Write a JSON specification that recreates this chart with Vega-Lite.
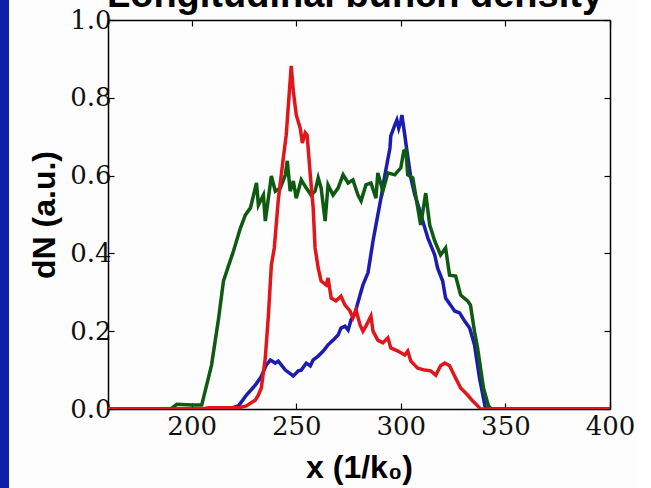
{
  "$schema": "https://vega.github.io/schema/vega-lite/v6.json",
  "background": "#fdfdfd",
  "padding": {"left": 0, "top": -23, "right": 0, "bottom": 0},
  "spacing": 19,
  "config": {
    "view": {"stroke": null},
    "axis": {
      "grid": false,
      "domainColor": "#000",
      "domainWidth": 1.5,
      "tickColor": "#000",
      "tickWidth": 1.2,
      "tickSize": -6,
      "labelFont": "DejaVu Serif",
      "labelFontSize": 26,
      "labelColor": "#111",
      "labelOverlap": false,
      "labelBound": false,
      "labelFlush": false,
      "titleFont": "Liberation Sans",
      "titleFontSize": 32,
      "titleFontWeight": "bold",
      "titleColor": "#000"
    }
  },
  "datasets": {
    "curves": [
      {"s": "A", "x": 160, "y": 0}, {"s": "A", "x": 210, "y": 0}, {"s": "A", "x": 219, "y": 0.003}, {"s": "A", "x": 222.4, "y": 0.008},
      {"s": "A", "x": 226.2, "y": 0.036}, {"s": "A", "x": 230.5, "y": 0.062}, {"s": "A", "x": 232.9, "y": 0.08}, {"s": "A", "x": 235.7, "y": 0.113},
      {"s": "A", "x": 237.6, "y": 0.126}, {"s": "A", "x": 240, "y": 0.118}, {"s": "A", "x": 241.4, "y": 0.123}, {"s": "A", "x": 244.8, "y": 0.1},
      {"s": "A", "x": 248.6, "y": 0.085}, {"s": "A", "x": 251, "y": 0.098}, {"s": "A", "x": 252.4, "y": 0.1}, {"s": "A", "x": 254.8, "y": 0.118},
      {"s": "A", "x": 256.7, "y": 0.111}, {"s": "A", "x": 258.1, "y": 0.126}, {"s": "A", "x": 260.5, "y": 0.136}, {"s": "A", "x": 262.9, "y": 0.149},
      {"s": "A", "x": 265.2, "y": 0.165}, {"s": "A", "x": 267.6, "y": 0.177}, {"s": "A", "x": 270, "y": 0.19}, {"s": "A", "x": 271.4, "y": 0.208},
      {"s": "A", "x": 273.3, "y": 0.213}, {"s": "A", "x": 274.8, "y": 0.203}, {"s": "A", "x": 276.2, "y": 0.229}, {"s": "A", "x": 278.1, "y": 0.247},
      {"s": "A", "x": 280.5, "y": 0.293}, {"s": "A", "x": 281.9, "y": 0.319}, {"s": "A", "x": 284.3, "y": 0.35}, {"s": "A", "x": 286.7, "y": 0.432},
      {"s": "A", "x": 288.1, "y": 0.473}, {"s": "A", "x": 290.5, "y": 0.542}, {"s": "A", "x": 292.4, "y": 0.602}, {"s": "A", "x": 294.8, "y": 0.671},
      {"s": "A", "x": 295.2, "y": 0.702}, {"s": "A", "x": 297.1, "y": 0.73}, {"s": "A", "x": 298.1, "y": 0.743}, {"s": "A", "x": 299, "y": 0.722},
      {"s": "A", "x": 300, "y": 0.74}, {"s": "A", "x": 300.5, "y": 0.756}, {"s": "A", "x": 301.9, "y": 0.704}, {"s": "A", "x": 302.4, "y": 0.684},
      {"s": "A", "x": 303.3, "y": 0.65}, {"s": "A", "x": 304.8, "y": 0.594}, {"s": "A", "x": 306.7, "y": 0.55}, {"s": "A", "x": 309, "y": 0.512},
      {"s": "A", "x": 310.5, "y": 0.483}, {"s": "A", "x": 312.9, "y": 0.44}, {"s": "A", "x": 316.2, "y": 0.396}, {"s": "A", "x": 317.6, "y": 0.362},
      {"s": "A", "x": 320, "y": 0.329}, {"s": "A", "x": 321.4, "y": 0.285}, {"s": "A", "x": 323.8, "y": 0.267}, {"s": "A", "x": 325.7, "y": 0.252},
      {"s": "A", "x": 328.1, "y": 0.247}, {"s": "A", "x": 330.5, "y": 0.226}, {"s": "A", "x": 332.9, "y": 0.208}, {"s": "A", "x": 335.2, "y": 0.165},
      {"s": "A", "x": 337.6, "y": 0.08}, {"s": "A", "x": 339.5, "y": 0.028}, {"s": "A", "x": 340.5, "y": 0}, {"s": "A", "x": 400, "y": 0},

      {"s": "B", "x": 160, "y": 0}, {"s": "B", "x": 190, "y": 0}, {"s": "B", "x": 192.9, "y": 0.012}, {"s": "B", "x": 200, "y": 0.01},
      {"s": "B", "x": 204.8, "y": 0.01}, {"s": "B", "x": 209.5, "y": 0.113}, {"s": "B", "x": 212.9, "y": 0.234}, {"s": "B", "x": 215.2, "y": 0.329},
      {"s": "B", "x": 217.6, "y": 0.368}, {"s": "B", "x": 220, "y": 0.406}, {"s": "B", "x": 223.3, "y": 0.465}, {"s": "B", "x": 225.7, "y": 0.499},
      {"s": "B", "x": 228.1, "y": 0.517}, {"s": "B", "x": 231, "y": 0.581}, {"s": "B", "x": 231.9, "y": 0.524}, {"s": "B", "x": 234.3, "y": 0.55},
      {"s": "B", "x": 235.2, "y": 0.483}, {"s": "B", "x": 238.1, "y": 0.599}, {"s": "B", "x": 240, "y": 0.56}, {"s": "B", "x": 242.4, "y": 0.568},
      {"s": "B", "x": 244.8, "y": 0.602}, {"s": "B", "x": 245.7, "y": 0.638}, {"s": "B", "x": 247.1, "y": 0.56}, {"s": "B", "x": 248.6, "y": 0.586},
      {"s": "B", "x": 250, "y": 0.542}, {"s": "B", "x": 252.4, "y": 0.589}, {"s": "B", "x": 254.8, "y": 0.568}, {"s": "B", "x": 257.1, "y": 0.55},
      {"s": "B", "x": 259, "y": 0.56}, {"s": "B", "x": 260.5, "y": 0.594}, {"s": "B", "x": 261.9, "y": 0.568}, {"s": "B", "x": 263.8, "y": 0.483},
      {"s": "B", "x": 265.2, "y": 0.576}, {"s": "B", "x": 267.6, "y": 0.55}, {"s": "B", "x": 270, "y": 0.568}, {"s": "B", "x": 272.4, "y": 0.602},
      {"s": "B", "x": 274.8, "y": 0.581}, {"s": "B", "x": 277.1, "y": 0.589}, {"s": "B", "x": 279.5, "y": 0.55}, {"s": "B", "x": 281, "y": 0.535},
      {"s": "B", "x": 283.3, "y": 0.576}, {"s": "B", "x": 285.7, "y": 0.581}, {"s": "B", "x": 288.1, "y": 0.542}, {"s": "B", "x": 289, "y": 0.607},
      {"s": "B", "x": 291.4, "y": 0.56}, {"s": "B", "x": 293.8, "y": 0.607}, {"s": "B", "x": 297.1, "y": 0.602}, {"s": "B", "x": 300, "y": 0.62},
      {"s": "B", "x": 301.4, "y": 0.663}, {"s": "B", "x": 302.4, "y": 0.666}, {"s": "B", "x": 303.3, "y": 0.602}, {"s": "B", "x": 305.7, "y": 0.594},
      {"s": "B", "x": 308.1, "y": 0.517}, {"s": "B", "x": 309.5, "y": 0.473}, {"s": "B", "x": 311.9, "y": 0.555}, {"s": "B", "x": 313.8, "y": 0.473},
      {"s": "B", "x": 316.2, "y": 0.432}, {"s": "B", "x": 319, "y": 0.396}, {"s": "B", "x": 321.4, "y": 0.414}, {"s": "B", "x": 323.3, "y": 0.344},
      {"s": "B", "x": 326.2, "y": 0.342}, {"s": "B", "x": 328.6, "y": 0.293}, {"s": "B", "x": 331.9, "y": 0.278}, {"s": "B", "x": 333.3, "y": 0.267},
      {"s": "B", "x": 335.2, "y": 0.2}, {"s": "B", "x": 336.7, "y": 0.157}, {"s": "B", "x": 339.5, "y": 0.054}, {"s": "B", "x": 341.9, "y": 0.008},
      {"s": "B", "x": 343.3, "y": 0}, {"s": "B", "x": 400, "y": 0},

      {"s": "C", "x": 160, "y": 0}, {"s": "C", "x": 205, "y": 0}, {"s": "C", "x": 208.1, "y": 0.003}, {"s": "C", "x": 222.4, "y": 0.003},
      {"s": "C", "x": 226.2, "y": 0.008}, {"s": "C", "x": 228.1, "y": 0.015}, {"s": "C", "x": 230.5, "y": 0.023}, {"s": "C", "x": 231.9, "y": 0.036},
      {"s": "C", "x": 233.3, "y": 0.054}, {"s": "C", "x": 235.2, "y": 0.131}, {"s": "C", "x": 236.7, "y": 0.242}, {"s": "C", "x": 238.1, "y": 0.37},
      {"s": "C", "x": 239.5, "y": 0.414}, {"s": "C", "x": 241.4, "y": 0.537}, {"s": "C", "x": 243.8, "y": 0.645}, {"s": "C", "x": 245.2, "y": 0.704},
      {"s": "C", "x": 247.6, "y": 0.882}, {"s": "C", "x": 248.6, "y": 0.817}, {"s": "C", "x": 250, "y": 0.756}, {"s": "C", "x": 251.9, "y": 0.722},
      {"s": "C", "x": 252.9, "y": 0.684}, {"s": "C", "x": 254.3, "y": 0.71}, {"s": "C", "x": 255.2, "y": 0.704}, {"s": "C", "x": 256.7, "y": 0.602},
      {"s": "C", "x": 258.1, "y": 0.517}, {"s": "C", "x": 259, "y": 0.414}, {"s": "C", "x": 260.5, "y": 0.362}, {"s": "C", "x": 261.9, "y": 0.329},
      {"s": "C", "x": 264.3, "y": 0.319}, {"s": "C", "x": 265.2, "y": 0.337}, {"s": "C", "x": 266.7, "y": 0.285}, {"s": "C", "x": 269, "y": 0.278},
      {"s": "C", "x": 271.4, "y": 0.29}, {"s": "C", "x": 273.3, "y": 0.267}, {"s": "C", "x": 275.7, "y": 0.252}, {"s": "C", "x": 277.1, "y": 0.234},
      {"s": "C", "x": 278.6, "y": 0.254}, {"s": "C", "x": 280.5, "y": 0.216}, {"s": "C", "x": 281.9, "y": 0.2}, {"s": "C", "x": 283.3, "y": 0.213},
      {"s": "C", "x": 285.7, "y": 0.239}, {"s": "C", "x": 286.7, "y": 0.2}, {"s": "C", "x": 289, "y": 0.177}, {"s": "C", "x": 291.4, "y": 0.17},
      {"s": "C", "x": 293.8, "y": 0.183}, {"s": "C", "x": 295.2, "y": 0.157}, {"s": "C", "x": 298.6, "y": 0.149}, {"s": "C", "x": 301.9, "y": 0.139},
      {"s": "C", "x": 303.3, "y": 0.149}, {"s": "C", "x": 304.8, "y": 0.123}, {"s": "C", "x": 308.1, "y": 0.105}, {"s": "C", "x": 311.4, "y": 0.1},
      {"s": "C", "x": 314.3, "y": 0.098}, {"s": "C", "x": 316.7, "y": 0.087}, {"s": "C", "x": 319, "y": 0.111}, {"s": "C", "x": 321, "y": 0.118},
      {"s": "C", "x": 323.3, "y": 0.111}, {"s": "C", "x": 325.7, "y": 0.085}, {"s": "C", "x": 328.6, "y": 0.054}, {"s": "C", "x": 331.9, "y": 0.036},
      {"s": "C", "x": 334.3, "y": 0.021}, {"s": "C", "x": 336.7, "y": 0.008}, {"s": "C", "x": 338.1, "y": 0}, {"s": "C", "x": 400, "y": 0}
    ]
  },
  "resolve": {"scale": {"y": "independent"}},
  "hconcat": [
    {
      "width": 9,
      "height": 389,
      "data": {"values": [{"k": 1}]},
      "mark": {"type": "rect", "color": "#0b1fa8"},
      "encoding": {
        "y": {"datum": 1.1, "type": "quantitative", "scale": {"domain": [0, 1], "nice": false}, "axis": null},
        "y2": {"datum": -0.3}
      }
    },
    {
      "width": 502,
      "height": 389,
      "data": {"name": "curves"},
      "title": {
        "text": "Longitudinal bunch density",
        "font": "Liberation Sans",
        "fontSize": 38,
        "fontWeight": "bold",
        "color": "#000",
        "anchor": "middle",
        "baseline": "alphabetic",
        "offset": -38,
        "dx": -4
      },
      "resolve": {"axis": {"x": "independent", "y": "independent"}},
      "layer": [
        {
          "transform": [{"filter": "datum.s === 'A'"}],
          "mark": {"type": "line", "color": "#1c1cb2", "strokeWidth": 3.5, "clip": true},
          "encoding": {
            "x": {"field": "x", "type": "quantitative",
              "scale": {"domain": [160, 400], "nice": false, "zero": false},
              "axis": {"orient": "bottom", "values": [200, 250, 300, 350, 400], "title": "x (1/k₀)", "labelPadding": 10, "titlePadding": 13}},
            "y": {"field": "y", "type": "quantitative",
              "scale": {"domain": [0, 1], "nice": false},
              "axis": {"orient": "left", "values": [0, 0.2, 0.4, 0.6, 0.8, 1.0], "format": ".1f", "title": "dN (a.u.)", "labelPadding": 3, "titlePadding": 8}}
          }
        },
        {
          "transform": [{"filter": "datum.s === 'B'"}],
          "mark": {"type": "line", "color": "#0e5a10", "strokeWidth": 3.5, "clip": true},
          "encoding": {
            "x": {"field": "x", "type": "quantitative",
              "axis": {"orient": "top", "values": [200, 250, 300, 350, 400], "labels": false, "title": null}},
            "y": {"field": "y", "type": "quantitative",
              "axis": {"orient": "right", "values": [0, 0.2, 0.4, 0.6, 0.8, 1.0], "labels": false, "title": null}}
          }
        },
        {
          "transform": [{"filter": "datum.s === 'C'"}],
          "mark": {"type": "line", "color": "#e2151b", "strokeWidth": 3.5, "clip": true},
          "encoding": {
            "x": {"field": "x", "type": "quantitative", "axis": null},
            "y": {"field": "y", "type": "quantitative", "axis": null}
          }
        }
      ]
    }
  ]
}
